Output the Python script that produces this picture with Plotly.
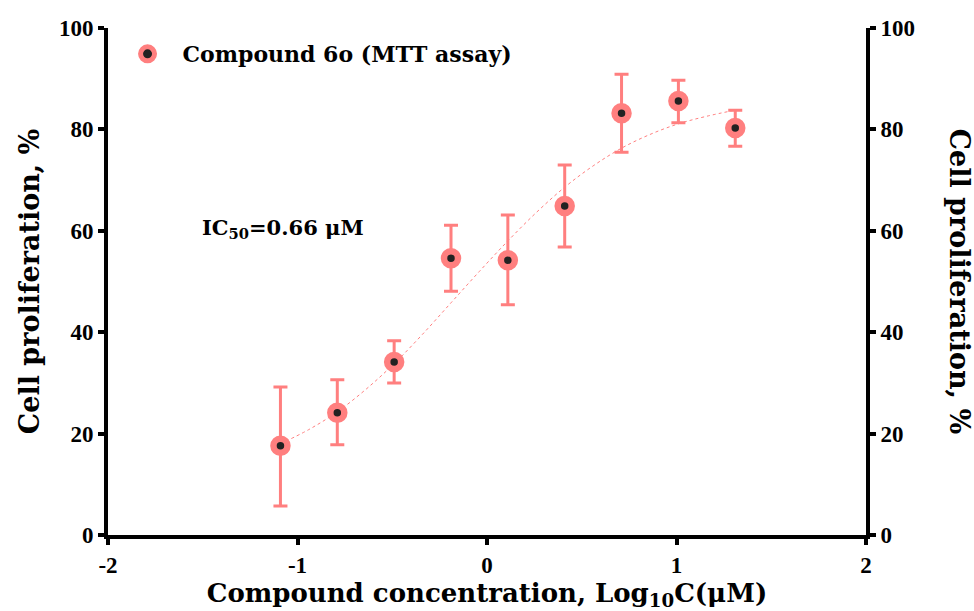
import plotly.graph_objects as go

# Data
log_conc = [-1.09, -0.79, -0.49, -0.19, 0.11, 0.41, 0.71, 1.01, 1.31]
prolif = [17.6, 24.1, 34.1, 54.6, 54.2, 64.9, 83.2, 85.6, 80.3]
err_plus = [11.6, 6.5, 4.2, 6.5, 8.9, 8.1, 7.7, 4.1, 3.5]
err_minus = [11.9, 6.3, 4.1, 6.5, 8.8, 8.1, 7.7, 4.3, 3.6]

fit_x = [-1.09, -0.94, -0.79, -0.64, -0.49, -0.34, -0.19, -0.04, 0.11, 0.26, 0.41, 0.56, 0.71, 0.86, 1.01, 1.16, 1.31]
fit_y = [18.0, 20.8, 24.3, 28.7, 33.8, 39.6, 45.8, 52.0, 58.0, 63.6, 68.6, 72.8, 76.3, 79.0, 81.1, 82.6, 83.8]

xticks = [-2, -1, 0, 1, 2]
yticks = [0, 20, 40, 60, 80, 100]

SALMON = "#FF7F7F"
TICKFONT = "Liberation Serif"
FONT = "DejaVu Serif"

fig = go.Figure()

fig.add_trace(go.Scatter(
    x=fit_x, y=fit_y, mode="lines", line=dict(color=SALMON, width=1, dash="dot", shape="spline"),
    showlegend=False, hoverinfo="skip"))

fig.add_trace(go.Scatter(
    x=log_conc, y=prolif, mode="markers",
    name="<b>Compound 6o (MTT assay)</b>",
    marker=dict(size=14, color="#222222", line=dict(color=SALMON, width=6.5)),
    error_y=dict(type="data", symmetric=False, array=err_plus, arrayminus=err_minus,
                 color=SALMON, thickness=3, width=7),
))

# invisible trace for right axis
fig.add_trace(go.Scatter(x=[None], y=[None], yaxis="y2", showlegend=False))

axis_common = dict(showline=True, linewidth=4, linecolor="black", ticks="outside",
                   ticklen=6, tickwidth=4, tickcolor="black", showgrid=False, zeroline=False,
                   tickfont=dict(family=TICKFONT, size=23, color="black"))

fig.update_layout(
    width=974, height=611,
    margin=dict(l=108, r=108, t=28, b=76, autoexpand=False),
    plot_bgcolor="white", paper_bgcolor="white",
    font=dict(family=FONT, color="black"),
    xaxis=dict(range=[-2, 2], tickvals=xticks, ticktext=[f"<b>{v}</b>" for v in xticks],
               title=dict(text="<b>Compound concentration, Log<sub>10</sub>C(μM)</b>",
                          font=dict(family=FONT, size=26), standoff=0),
               **axis_common),
    yaxis=dict(range=[0, 100], tickvals=yticks, ticktext=[f"<b>{v}</b>" for v in yticks],
               title=dict(text="<b>Cell proliferation, %</b>", font=dict(family=FONT, size=27), standoff=12),
               **axis_common),
    yaxis2=dict(range=[0, 100], overlaying="y", side="right", tickvals=yticks,
                ticktext=[f"<b>{v}</b>" for v in yticks], **axis_common),
    legend=dict(x=0.006, y=0.99, xanchor="left", yanchor="top", bgcolor="rgba(0,0,0,0)",
                itemwidth=60, font=dict(family=FONT, size=22, color="black")),
    annotations=[
        dict(x=-1.515, y=60.5, xref="x", yref="y", text="<b>IC<sub>50</sub>=0.66 μM</b>",
             showarrow=False, xanchor="left", yanchor="middle", font=dict(family=FONT, size=21, color="black")),
        dict(x=1.0, y=50, xref="paper", yref="y", xshift=93, text="<b>Cell proliferation, %</b>",
             textangle=90, showarrow=False, xanchor="center", yanchor="middle",
             font=dict(family=FONT, size=27, color="black")),
    ],
)

fig.write_html("out.html", config={"displayModeBar": False},
               post_script="document.body.style.margin='0';document.body.style.padding='0';")
